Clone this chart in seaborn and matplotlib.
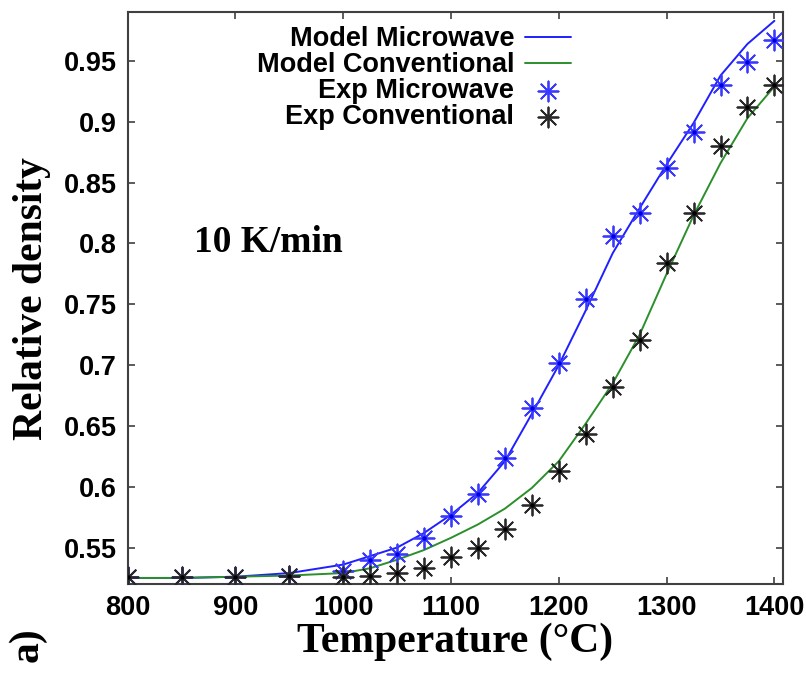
import matplotlib
matplotlib.use("Agg")
import matplotlib.pyplot as plt
from matplotlib.ticker import FuncFormatter
import seaborn as sns
import pandas as pd

# Temperatures (°C) of the sampled points
temperature = [800, 850, 900, 950, 1000, 1025, 1050, 1075, 1100, 1125, 1150,
               1175, 1200, 1225, 1250, 1275, 1300, 1325, 1350, 1375, 1400]

# Model curves (relative density)
model_microwave = [0.525, 0.525, 0.526, 0.529, 0.536, 0.543, 0.550, 0.562,
                   0.577, 0.595, 0.621, 0.660, 0.700, 0.745, 0.792, 0.829,
                   0.865, 0.899, 0.938, 0.964, 0.983]
model_conventional = [0.525, 0.525, 0.526, 0.527, 0.529, 0.533, 0.540, 0.548,
                      0.558, 0.569, 0.582, 0.599, 0.621, 0.652, 0.685, 0.725,
                      0.775, 0.823, 0.866, 0.903, 0.929]

# Experimental measurements (relative density)
exp_microwave = [0.526, 0.526, 0.526, 0.527, 0.531, 0.540, 0.545, 0.558,
                 0.576, 0.594, 0.624, 0.665, 0.702, 0.754, 0.806, 0.825,
                 0.862, 0.892, 0.930, 0.949, 0.967]
exp_conventional = [0.526, 0.526, 0.526, 0.527, 0.526, 0.527, 0.529, 0.533,
                    0.542, 0.550, 0.565, 0.585, 0.613, 0.643, 0.682, 0.721,
                    0.784, 0.825, 0.880, 0.912, 0.930]

x_ticks = [800, 900, 1000, 1100, 1200, 1300, 1400]
y_ticks = [0.55, 0.6, 0.65, 0.7, 0.75, 0.8, 0.85, 0.9, 0.95]

df = pd.DataFrame({
    "T": temperature,
    "model_mw": model_microwave,
    "model_cv": model_conventional,
    "exp_mw": exp_microwave,
    "exp_cv": exp_conventional,
})

sns.set_style("ticks")
plt.rcParams["font.family"] = ["Liberation Sans", "DejaVu Sans"]
plt.rcParams["font.weight"] = "bold"
plt.rcParams["text.color"] = "black"
plt.rcParams["axes.labelcolor"] = "black"
plt.rcParams["xtick.labelcolor"] = "black"
plt.rcParams["ytick.labelcolor"] = "black"

BLUE = "#1f1fff"
GREEN = "#2b8f2b"
STAR_BLUE = "#3a3aff"
STAR_BLACK = "#2a2a2a"
ASTERISK = (8, 2, 0)

fig = plt.figure(figsize=(8.06, 6.73), dpi=100)
ax = fig.add_axes([0.1584, 0.1322, 0.8131, 0.8495])

sns.lineplot(data=df, x="T", y="model_mw", color=BLUE, lw=1.4,
             label="Model Microwave", ax=ax)
sns.lineplot(data=df, x="T", y="model_cv", color=GREEN, lw=1.4,
             label="Model Conventional", ax=ax)
sns.scatterplot(data=df, x="T", y="exp_mw", marker=ASTERISK, s=210,
                color=STAR_BLUE, linewidth=1.3, label="Exp Microwave", ax=ax,
                zorder=3)
sns.scatterplot(data=df, x="T", y="exp_cv", marker=ASTERISK, s=210,
                color=STAR_BLACK, linewidth=1.3, label="Exp Conventional",
                ax=ax, zorder=4)
# small centre dots of the asterisks
sns.scatterplot(data=df, x="T", y="exp_mw", marker="o", s=10, color="#0000e0",
                linewidth=0, legend=False, ax=ax, zorder=3)
sns.scatterplot(data=df, x="T", y="exp_cv", marker="o", s=10, color="black",
                linewidth=0, legend=False, ax=ax, zorder=4)

ax.set_xlim(800, 1408)
ax.set_ylim(0.520, 0.990)
ax.set_xticks(x_ticks)
ax.set_yticks(y_ticks)
ax.yaxis.set_major_formatter(FuncFormatter(lambda v, p: f"{v:g}"))
ax.tick_params(axis="both", which="major", direction="in", length=5,
               width=1.2, color="#404040", labelcolor="black",
               top=True, right=True, labelsize=19.5)
ax.tick_params(axis="x", pad=8)
ax.tick_params(axis="y", pad=8)
for lab in ax.get_xticklabels() + ax.get_yticklabels():
    lab.set_fontweight("bold")
for sp in ax.spines.values():
    sp.set_color("#404040")
    sp.set_linewidth(1.5)

serif = ["Liberation Serif", "DejaVu Serif"]
ax.set_xlabel("Temperature (°C)", family=serif, fontsize=30,
              fontweight="bold", labelpad=1, color="black")
ax.set_ylabel("Relative density", family=serif, fontsize=30,
              fontweight="bold", labelpad=9, color="black")
ax.text(862, 0.801, "10 K/min", family=serif, fontsize=27,
        fontweight="bold", ha="left", va="center", color="black")
fig.text(27 / 806, 1 - 645 / 673, "a)", family=serif, fontsize=30,
         fontweight="bold", rotation=90, ha="center", va="center",
         color="black")

# markerfirst=False puts the samples on the right and right-aligns labels
leg = ax.legend(loc="upper right", bbox_to_anchor=(0.6765, 0.976),
                frameon=False, markerfirst=False, handlelength=1.7,
                handletextpad=0.4, labelspacing=0.0, borderpad=0.0,
                borderaxespad=0.0,
                prop={"family": "Liberation Sans", "weight": "bold",
                      "size": 19.5})
for t in leg.get_texts():
    t.set_color("black")

fig.savefig("out.png", dpi=100)
